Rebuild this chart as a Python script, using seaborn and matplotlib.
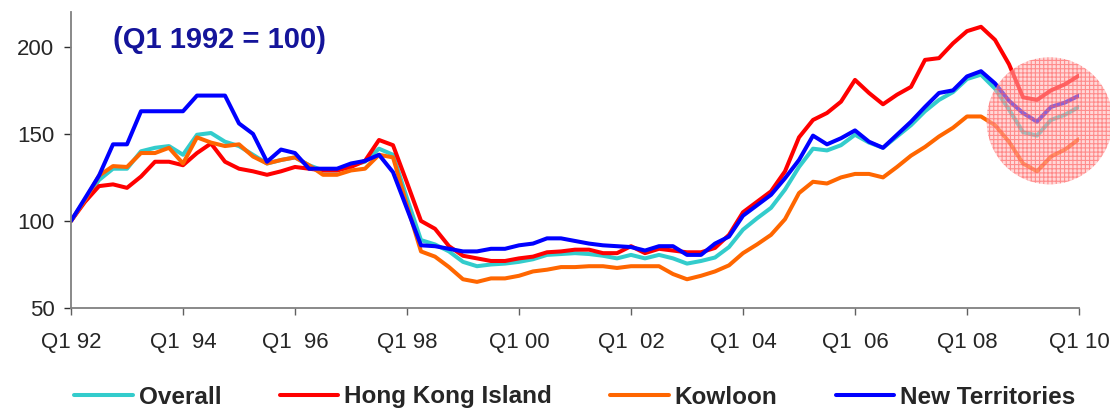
import numpy as np
import pandas as pd
import seaborn as sns
import matplotlib.pyplot as plt
from matplotlib.patches import Ellipse

# quarterly index, Q1 1992 .. Q1 2010 (73 quarters)
quarter = np.arange(73)

overall = [100, 112, 123.5, 130, 130, 140, 142, 143, 138, 149.5,
           150.5, 145.5, 143, 138, 133, 135, 136.5, 132, 129, 129,
           132, 134, 141.5, 138, 113, 89, 86.5, 82.5, 76.5, 74,
           75, 75.5, 76.5, 78, 80.5, 81, 81.5, 81, 80, 78.5,
           80.5, 78.5, 80.5, 78.5, 75.5, 77, 79, 85, 95, 101.5,
           107.5, 118, 131, 141.5, 140.5, 143.5, 149.5, 145, 142, 148.5,
           155, 163, 169.5, 174, 181.5, 184, 176, 164, 151, 149,
           158, 161, 165.5]

hk_island = [100, 111, 120, 121, 119, 125.5, 134, 134, 132, 139,
             144.5, 134, 130, 128.5, 126.5, 128.5, 131, 130, 129, 129,
             131, 134.5, 146.5, 143.5, 122, 100, 95.5, 85.5, 80, 78.5,
             77, 77, 78.5, 79.5, 82, 82.5, 83.5, 83.5, 81.5, 81.5,
             85.5, 81.5, 84, 83, 82, 82, 84.5, 92, 105, 111,
             117, 128.5, 148, 158, 162, 168.5, 181, 173.5, 167, 172.5,
             177, 192.5, 193.5, 202, 209, 211.5, 204, 190, 171, 169.5,
             175, 178.5, 183.5]

kowloon = [100, 112, 126, 131.5, 131, 139, 139, 142, 133, 148,
           145, 143, 144, 137, 133, 135, 136.5, 132, 126.5, 126.5,
           129, 130, 138, 136.5, 109, 82.5, 79.5, 73.5, 66.5, 65,
           67, 67, 68.5, 71, 72, 73.5, 73.5, 74, 74, 73,
           74, 74, 74, 69.5, 66.5, 68.5, 71, 74.5, 81.5, 86.5,
           92, 101, 116, 122.5, 121.5, 125, 127, 127, 125, 131,
           137.5, 142.5, 148.5, 153.5, 160, 160, 155, 145.5, 133, 128.5,
           137, 141, 147]

new_territories = [100, 113, 126, 144, 144, 163, 163, 163, 163, 172,
                   172, 172, 156, 150, 134, 141, 139, 130, 130, 130,
                   133, 134.5, 138, 128, 107, 86, 85.5, 84, 82.5, 82.5,
                   84, 84, 86, 87, 90, 90, 88.5, 87, 86, 85.5,
                   85, 83, 85.5, 85.5, 80.5, 80.5, 87, 91, 103, 109,
                   115, 124.5, 135, 149, 144, 147.5, 152, 145.5, 142, 149.5,
                   157, 165.5, 173.5, 175, 183, 186, 179, 169, 162, 157,
                   165.5, 168, 172]

regions = ['Overall', 'Hong Kong Island', 'Kowloon', 'New Territories']
colors = ['#33CCCC', '#FF0000', '#FF6600', '#0000FF']

tick_pos = np.arange(0, 73, 8)
tick_labels = ['Q1 92', 'Q1  94', 'Q1  96', 'Q1 98', 'Q1 00',
               'Q1  02', 'Q1  04', 'Q1  06', 'Q1 08', 'Q1 10']

wide = pd.DataFrame({'quarter': quarter, 'Overall': overall,
                     'Hong Kong Island': hk_island, 'Kowloon': kowloon,
                     'New Territories': new_territories})
long = wide.melt(id_vars='quarter', var_name='region', value_name='index')

sns.set_style('white')
plt.rcParams['font.family'] = ['Liberation Sans', 'DejaVu Sans']
plt.rcParams['hatch.linewidth'] = 0.8

fig = plt.figure(figsize=(11.1, 4.09), dpi=100)
ax = fig.add_axes([71 / 1110, 1 - 308 / 409, 1008 / 1110, 296 / 409])

sns.lineplot(data=long, x='quarter', y='index', hue='region',
             hue_order=regions, palette=colors, linewidth=2.9, ax=ax)

ax.set_xlim(0, 72)
ax.set_ylim(50, 220)
ax.set_xticks(tick_pos)
ax.set_xticklabels(tick_labels)
ax.set_yticks([50, 100, 150, 200])
ax.set_xlabel('')
ax.set_ylabel('')
ax.tick_params(axis='x', bottom=True, direction='out', length=5, width=1,
               color='#606060', labelsize=16, pad=12)
ax.tick_params(axis='y', left=True, direction='out', length=5, width=1,
               color='#303030', labelsize=16, pad=7)
for s in ['top', 'right']:
    ax.spines[s].set_visible(False)
for s in ['left', 'bottom']:
    ax.spines[s].set_color('#808080')
    ax.spines[s].set_linewidth(1.3)

# highlight circle over the latest quarters
circ = Ellipse((69.9, 157.5), width=9.0, height=73, facecolor=(1, 0.72, 0.72, 0.55),
               edgecolor=(1, 0.35, 0.35, 0.6), linewidth=0, hatch='++++',
               zorder=5, clip_on=False)
ax.add_patch(circ)

handles, labels = ax.get_legend_handles_labels()
ax.get_legend().remove()
fig.legend(handles, labels, loc='center', bbox_to_anchor=(575 / 1110, 1 - 397 / 409),
           ncol=4, frameon=False, handlelength=2.4, handletextpad=0.25,
           columnspacing=2.4, prop={'size': 17.5, 'weight': 'bold'})

fig.text(113 / 1110, 1 - 40 / 409, '(Q1 1992 = 100)', fontsize=21,
         fontweight='bold', color='#14149a', ha='left', va='center')

fig.savefig('out.png', dpi=100)
